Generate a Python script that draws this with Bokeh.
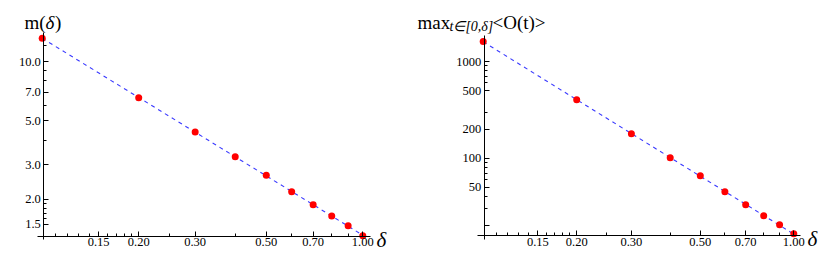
import numpy as np
from bokeh.plotting import figure
from bokeh.models import Range1d, FixedTicker, PrintfTickFormatter, Label
from bokeh.layouts import row
from bokeh.embed import file_html
from bokeh.resources import INLINE

# ---------------- data ----------------
delta = [0.1, 0.2, 0.3, 0.4, 0.5, 0.6, 0.7, 0.8, 0.9, 1.0]
m_vals = [13.1, 6.55, 4.40, 3.29, 2.65, 2.19, 1.88, 1.65, 1.47, 1.31]
o_vals = [1610, 402, 179, 101, 65.8, 44.9, 33.0, 25.4, 20.5, 16.5]

x_ticks = [0.15, 0.2, 0.3, 0.5, 0.7, 1.0]
x_tick_labels = ["0.15", "0.20", "0.30", "0.50", "0.70", "1.00"]
x_minor = [0.11, 0.12, 0.13, 0.14, 0.16, 0.17, 0.18, 0.19, 0.25, 0.4, 0.6, 0.8, 0.9]

m_ticks = [1.5, 2.0, 3.0, 5.0, 7.0, 10.0]
m_tick_labels = ["1.5", "2.0", "3.0", "5.0", "7.0", "10.0"]
m_minor = [1.6, 1.7, 1.8, 1.9, 4.0, 6.0, 8.0, 9.0, 12.0]

o_ticks = [20, 50, 100, 200, 500, 1000]
o_tick_labels = ["", "50", "100", "200", "500", "1000"]
o_minor = [30, 40, 60, 70, 80, 90, 300, 600, 700, 800, 900]

FONT = "Liberation Serif"
TOP = 0      # page y of canvas top
H = 255


def make_conv(x_ref_px, x_ref_val, x_ppd, y_ref_px, y_ref_val, y_ppd):
    """page pixel -> data value converters (log scales)."""
    def xv(px):
        return 10 ** (np.log10(x_ref_val) + (px - x_ref_px) / x_ppd)

    def yv(py):
        return 10 ** (np.log10(y_ref_val) - (py - y_ref_px) / y_ppd)
    return xv, yv


def panel(vals, yt, ytl, yminor, conv, x0, width, yaxis_px, xaxis_py,
          ybounds_py, xbounds_px):
    xv, yv = conv
    p = figure(width=width, height=H, x_axis_type="log", y_axis_type="log",
               output_backend="svg", toolbar_location=None, title=None,
               x_range=Range1d(xv(x0), xv(x0 + width)),
               y_range=Range1d(yv(TOP + H), yv(TOP)),
               min_border_left=0, min_border_right=0, min_border_top=0,
               min_border_bottom=0)
    p.outline_line_color = None
    p.background_fill_color = "white"
    p.border_fill_color = "white"
    p.xgrid.visible = False
    p.ygrid.visible = False

    # fitted dashed line in log-log
    lx = np.log10(np.array(delta))
    ly = np.log10(np.array(vals))
    k, b = np.polyfit(lx, ly, 1)
    fx = np.array([delta[0], delta[-1]])
    fy = 10 ** (k * np.log10(fx) + b)
    p.line(fx, fy, line_color="#3a3aff", line_width=1.1, line_dash="4 4")

    p.scatter(delta, vals, size=7, fill_color="#ff0000", line_color=None)

    for ax in (p.xaxis[0], p.yaxis[0]):
        ax.axis_line_color = "black"
        ax.axis_line_width = 1
        ax.major_tick_line_color = "black"
        ax.minor_tick_line_color = "black"
        ax.major_tick_in = 5
        ax.major_tick_out = 0
        ax.minor_tick_in = 3
        ax.minor_tick_out = 0
        ax.major_label_text_font = FONT
        ax.major_label_text_font_size = "12.5px"
        ax.major_label_text_color = "black"

    xa = p.xaxis[0]
    xa.ticker = FixedTicker(ticks=x_ticks, minor_ticks=x_minor)
    xa.formatter = PrintfTickFormatter(format="%.2f")
    xa.major_label_overrides = dict(zip(x_ticks, x_tick_labels))
    xa.fixed_location = yv(xaxis_py)
    xa.bounds = (xv(xbounds_px[0]), xv(xbounds_px[1]))
    xa.major_label_standoff = 2

    ya = p.yaxis[0]
    ya.ticker = FixedTicker(ticks=yt, minor_ticks=yminor)
    ya.major_label_overrides = dict(zip(yt, ytl))
    ya.fixed_location = xv(yaxis_px)
    ya.bounds = (yv(ybounds_py[0]), yv(ybounds_py[1]))
    ya.major_label_standoff = 3
    return p


def add_label(p, conv, px, py, text, size, style="normal"):
    xv, yv = conv
    p.add_layout(Label(x=xv(px), y=yv(py), text=text, text_font=FONT,
                       text_font_size=size, text_font_style=style,
                       text_color="black", text_align="left",
                       text_baseline="alphabetic"))


# ---------------- left panel ----------------
convL = make_conv(362.3, 1.0, 320.6, 61.0, 10.0, 197.4)
pL = panel(m_vals, m_ticks, m_tick_labels, m_minor, convL, 0, 410,
           43.3, 235.7, (239, 32), (37, 370))
pL.yaxis[0].formatter = PrintfTickFormatter(format="%.1f")
add_label(pL, convL, 24, 21.5, "m(", "19px")
add_label(pL, convL, 45, 21.5, "δ", "19px", "italic")
add_label(pL, convL, 54.5, 21.5, ")", "19px")
add_label(pL, convL, 376, 239, "δ", "21px", "italic")

# ---------------- right panel ----------------
convR = make_conv(793.3, 1.0, 310.6, 61.0, 1000.0, 96.7)
pR = panel(o_vals, o_ticks, o_tick_labels, o_minor, convR, 410, 409,
           483.7, 235.0, (239, 35), (477, 800))
pR.yaxis[0].formatter = PrintfTickFormatter(format="%d")
add_label(pR, convR, 417, 21.5, "max", "19px")
add_label(pR, convR, 449, 26, "t∈[0,δ]", "14px", "italic")
add_label(pR, convR, 492, 21.5, "<O(t)>", "19px")
add_label(pR, convR, 807, 238, "δ", "21px", "italic")

layout = row(pL, pR)
open("out.html", "w").write(file_html(layout, INLINE))
